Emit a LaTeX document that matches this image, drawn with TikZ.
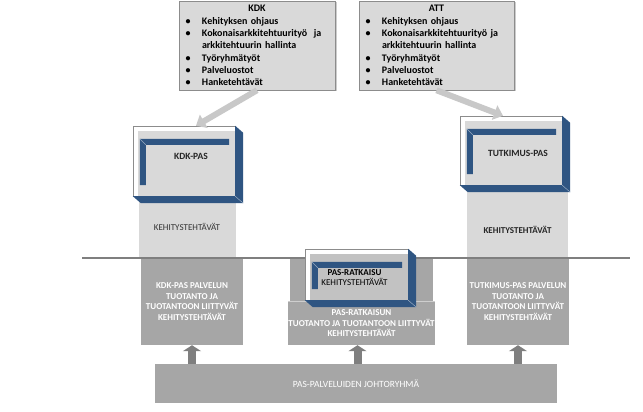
\documentclass[tikz,border=0pt]{standalone}
\usepackage{fontspec}
\setmainfont{Carlito}
\usetikzlibrary{arrows.meta,shadows}
\definecolor{boxgray}{RGB}{217,217,217}
\definecolor{colgray}{RGB}{166,166,166}
\definecolor{edgegray}{RGB}{140,140,140}
\definecolor{flowgray}{RGB}{200,200,200}
\definecolor{upgray}{RGB}{127,127,127}
\definecolor{pasblue}{RGB}{47,85,130}
\newcommand{\blt}{\makebox[16pt][c]{\textbullet}\hspace{6pt}}
\newcommand{\pasframe}[2]{%
  \filldraw[fill=white, draw=edgegray, line width=0.4pt] (#1.north west) rectangle (#1.south east);
  \fill[#2] ([xshift=5pt,yshift=-5pt]#1.north west) rectangle (#1.south east);
  \fill[pasblue] (#1.north east) -- ([xshift=8pt,yshift=-7pt]#1.north east) -- ([xshift=8pt,yshift=-7pt]#1.south east) -- ([xshift=8pt,yshift=-7pt]#1.south west) -- (#1.south west) -- (#1.south east) -- cycle;
  \draw[pasblue!40!white, line width=0.4pt] (#1.south east) -- ([xshift=8pt,yshift=-7pt]#1.south east);
  \fill[pasblue] ([xshift=7pt,yshift=-13pt]#1.north west) -- ([xshift=-6pt,yshift=-13pt]#1.north east) -- ([xshift=-6pt,yshift=-19pt]#1.north east) -- ([xshift=13pt,yshift=-19pt]#1.north west) -- ([xshift=13pt,yshift=11pt]#1.south west) -- ([xshift=7pt,yshift=11pt]#1.south west) -- cycle;
  \draw[pasblue!50!white, line width=0.4pt] ([xshift=7pt,yshift=-13pt]#1.north west) -- ([xshift=13pt,yshift=-19pt]#1.north west);
}

\begin{document}
\begin{tikzpicture}[x=1pt,y=-1pt,
  infobox/.style={draw=edgegray, fill=boxgray, line width=0.5pt, minimum width=156pt, minimum height=89pt, text width=154pt, inner xsep=1pt, inner ysep=1pt, align=left, font=\fontsize{10}{12.3}\selectfont\bfseries, drop shadow={shadow xshift=1.5pt, shadow yshift=-1.5pt, opacity=0.4}},
  pasface/.style={rectangle, minimum width=102pt, minimum height=70pt, inner sep=0pt},
  pastext/.style={font=\fontsize{9.5}{10}\selectfont\bfseries, text=black!85, align=center},
  upcol/.style={fill=boxgray, minimum width=97pt, inner sep=0pt, font=\fontsize{9}{10}\selectfont, text=black!80},
  lowcol/.style={fill=colgray, minimum width=102pt, minimum height=87pt, inner sep=0pt, align=center, text=white, font=\fontsize{9}{10.5}\selectfont\bfseries},
  flow/.style={draw=flowgray, line width=6pt, -{Triangle[width=15pt,length=9pt]}},
  upflow/.style={draw=upgray, line width=8pt, -{Triangle[width=18pt,length=6pt]}},
  sepline/.style={draw=upgray, line width=1.5pt}]
  \path[fill=white, use as bounding box] (0,0) rectangle (643,412);

  \node[infobox] (kdk) at (257,45.5) {\mbox{}\hfill KDK\hfill\mbox{}\\
    \blt Kehityksen ohjaus\\
    \blt Kokonaisarkkitehtuurityö\ \ ja\\
    \hspace*{22pt}arkkitehtuurin hallinta\\
    \blt Työryhmätyöt\\
    \blt Palveluostot\\
    \blt Hanketehtävät};
  \node[infobox, minimum width=155pt, text width=153pt] (att) at (436.5,45.5) {\mbox{}\hfill ATT\hfill\mbox{}\\
    \blt Kehityksen ohjaus\\
    \blt Kokonaisarkkitehtuurityö ja\\
    \hspace*{22pt}arkkitehtuurin hallinta\\
    \blt Työryhmätyöt\\
    \blt Palveluostot\\
    \blt Hanketehtävät};

  \node[upcol, minimum height=62pt] (kdkup) at (187,227) {KEHITYSTEHTÄVÄT};
  \node[upcol, minimum width=101pt, minimum height=73pt, label={[name=tutkuptext, yshift=-8.5pt, font=\fontsize{9}{10}\selectfont\bfseries, text=black!85]center:KEHITYSTEHTÄVÄT}] (tutkup) at (517.5,221.5) {};

  \node[lowcol] (kdklow) at (192,301.5) {KDK-PAS PALVELUN\\TUOTANTO JA\\TUOTANTOON LIITTYVÄT\\KEHITYSTEHTÄVÄT};
  \node[lowcol] (tutklow) at (518,301.5) {TUTKIMUS-PAS PALVELUN\\TUOTANTO JA\\TUOTANTOON LIITTYVÄT\\KEHITYSTEHTÄVÄT};
  \node[lowcol, minimum width=143pt, minimum height=44pt] (pasup) at (361.5,280) {};
  \node[lowcol, minimum width=143pt, minimum height=43pt] (paslow) at (361.5,323.5) {PAS-RATKAISUN\\TUOTANTO JA TUOTANTOON LIITTYVÄT\\KEHITYSTEHTÄVÄT};
  \draw[white!45!colgray, line width=0.8pt] (paslow.north west) -- (paslow.north east);

  \draw[sepline] (82,258) -- (630,258);

  \node[pasface] (kdkpas) at (184,161) {};
  \pasframe{kdkpas}{boxgray}
  \node[pastext] (kdkpastext) at ([xshift=7pt,yshift=5pt]kdkpas.center) {KDK-PAS};
  \node[pasface, minimum height=69pt] (tutkpas) at (511,150.5) {};
  \pasframe{tutkpas}{boxgray}
  \node[pastext] (tutkpastext) at ([xshift=7pt,yshift=-2.5pt]tutkpas.center) {TUTKIMUS-PAS};
  \node[pasface, minimum width=103pt, minimum height=51pt] (ratkpas) at (356.5,274.5) {};
  \pasframe{ratkpas}{colgray!45!boxgray}
  \node[pastext, font=\fontsize{9}{10}\selectfont, text=black] (ratkpastext) at ([xshift=-2pt,yshift=-3.5pt]ratkpas.center) {\textbf{PAS-RATKAISU}\\KEHITYSTEHTÄVÄT};

  \draw[flow] (kdk.south) -- ([xshift=12pt]kdkpas.north);
  \draw[flow] (att.south) -- ([xshift=-8pt]tutkpas.north);

  \node[fill=colgray, minimum width=402pt, minimum height=39pt, inner sep=0pt, text=white, font=\fontsize{9.5}{10}\selectfont] (johto) at (356,383.5) {PAS-PALVELUIDEN JOHTORYHMÄ};
  \draw[upflow] (johto.north -| kdklow.south) -- (kdklow.south);
  \draw[upflow] ([xshift=-4pt]johto.north -| paslow.south) -- ([xshift=-4pt]paslow.south);
  \draw[upflow] (johto.north -| tutklow.south) -- (tutklow.south);
\end{tikzpicture}
\end{document}
